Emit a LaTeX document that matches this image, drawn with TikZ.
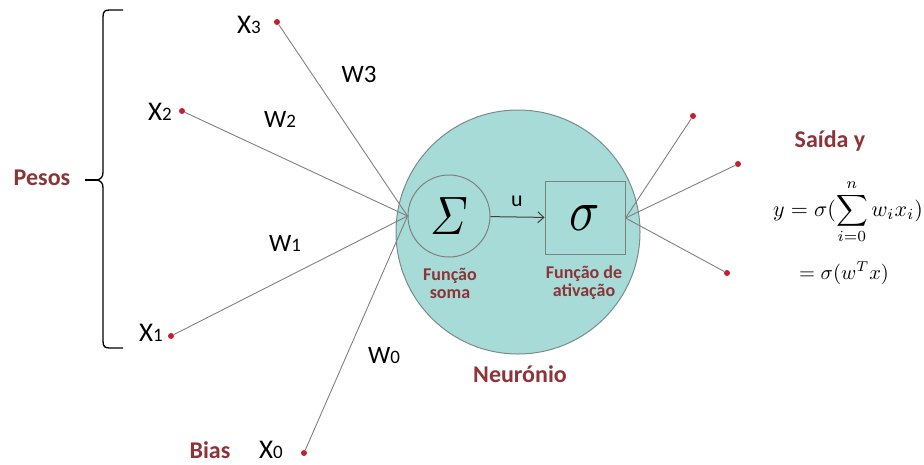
\documentclass[tikz,border=0pt]{standalone}
\usepackage{amsmath}
\usepackage{graphicx}
\usepackage[no-math]{fontspec}
\setmainfont{Carlito}
\usetikzlibrary{arrows.meta}
\definecolor{lblred}{RGB}{140,52,56}
\definecolor{dotred}{RGB}{196,32,44}
\definecolor{neufill}{RGB}{166,219,216}
\definecolor{neuedge}{RGB}{120,140,140}
\definecolor{wiregray}{RGB}{128,128,128}
\newcommand{\fs}[1]{\fontsize{#1}{#1}\selectfont}
\newcommand{\xw}[3]{\fs{#1}#2{\fs{19}#3}}
\begin{document}
\begin{tikzpicture}[x=1pt,y=-1pt,
  wire/.style={draw=wiregray,line width=0.9pt},
  pin/.style={circle,fill=dotred,inner sep=0pt,minimum size=6pt},
  redlbl/.style={text=lblred,font=\bfseries\fs{24}},
  smalllbl/.style={text=lblred,font=\bfseries\fs{18},align=center,inner sep=0pt},
  varlbl/.style={inner sep=0pt}]
\useasboundingbox (0,0) rectangle (924,464);
% neuron body
\node[circle,draw=neuedge,line width=1pt,fill=neufill,minimum size=244pt,inner sep=0pt] (neuron) at (518,232) {};
\node[circle,draw=wiregray,line width=1pt,minimum size=82pt,inner sep=0pt] (sum) at (449,216) {\scalebox{4.5}[5.4]{$\varSigma$}};
\node[rectangle,draw=wiregray,line width=1pt,minimum width=80pt,minimum height=73pt,inner sep=0pt] (act) at (585,218) {\scalebox{5}[5.8]{$\sigma$}};
\draw[draw=black!75,line width=1pt,-{Straight Barb[length=6pt,width=11pt]}] (sum) -- (act);
\node[varlbl] (u) at (517,201) {\fs{22}u};
\node[smalllbl] (fsoma) at (450,283) {Função\\soma};
\node[smalllbl] (fativ) at (584,283) {Função de\\ativação};
\node[redlbl] (neurlbl) at (520,374) {Neurónio};
% inputs
\node[pin] (x3) at (277,22) {};
\node[pin] (x2) at (182,111) {};
\node[pin] (x1) at (171,336) {};
\node[pin] (x0) at (304,453) {};
\coordinate (join) at (sum.west);
\draw[wire] (x3) -- (join);
\draw[wire] (x2) -- (join);
\draw[wire] (x1) -- (join);
\draw[wire] (x0) -- (join);
% outputs
\node[pin] (y1) at (693,116) {};
\node[pin] (y2) at (738,164) {};
\node[pin] (y3) at (727,273) {};
\draw[wire] (act.east) -- (y1);
\draw[wire] (act.east) -- (y2);
\draw[wire] (act.east) -- (y3);
% labels
\node[varlbl] (lx3) at (249,25) {\xw{27}{X}{3}};
\node[varlbl] (lx2) at (160,112) {\xw{27}{X}{2}};
\node[varlbl] (lx1) at (151,333) {\xw{27}{X}{1}};
\node[varlbl] (lx0) at (271,450) {\xw{27}{X}{0}};
\node[varlbl] (lw3) at (359,74) {\fs{25}W3};
\node[varlbl] (lw2) at (280,119) {\xw{25}{W}{2}};
\node[varlbl] (lw1) at (285,243) {\xw{25}{W}{1}};
\node[varlbl] (lw0) at (384,356) {\xw{25}{W}{0}};
\node[redlbl] (bias) at (210,450) {Bias};
\node[redlbl] (pesos) at (42,178) {Pesos};
\node[redlbl] (saida) at (830,141) {Saída y};
% brace
\draw[line width=1.3pt,line join=round] (123,10) -- (110,10) .. controls (105,10) and (103,11) .. (103,17) -- (103,172) .. controls (103,177) and (101,179) .. (97,180) .. controls (101,181) and (103,183) .. (103,188) -- (103,341) .. controls (103,347) and (105,348) .. (110,348) -- (123,348);
\coordinate (bracetip) at (97,180);
\coordinate (bracestem) at (85,180);
\draw[line width=1.3pt] (bracestem) -- (bracetip);
% formula
\node[anchor=base west,inner sep=0pt] (eq1) at (773,216) {\scalebox{2.2}{$\displaystyle y=\sigma(\sum_{i=0}^{n} w_i x_i)$}};
\node[anchor=base,inner sep=0pt] (eq2) at (844,279) {\scalebox{2.05}{$=\sigma(w^T x)$}};
\end{tikzpicture}
\end{document}
